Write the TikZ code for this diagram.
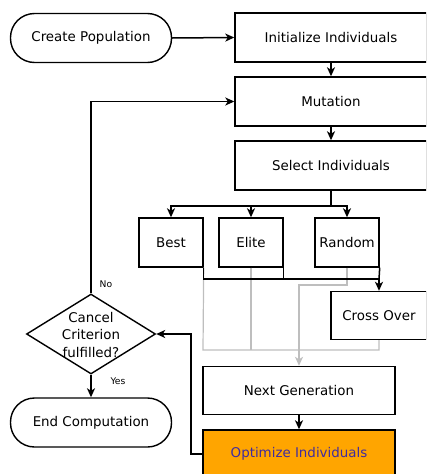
\documentclass[tikz,border=0pt]{standalone}
\usepackage{fontspec}
\setmainfont{DejaVu Sans}
\usetikzlibrary{shapes.geometric,arrows.meta}
\definecolor{optfill}{RGB}{255,165,0}
\definecolor{opttext}{RGB}{64,44,160}
\definecolor{lightline}{RGB}{190,190,190}
\begin{document}
\begin{tikzpicture}[x=1pt,y=-1pt,
  every node/.style={font=\fontsize{13.4}{17.5}\selectfont},
  box/.style={draw=black,line width=1.4pt,rectangle,inner sep=0pt,minimum width=192pt,minimum height=49pt},
  smallbox/.style={box,minimum width=64pt},
  term/.style={draw=black,line width=1.4pt,rectangle,rounded corners=24pt,inner sep=0pt,minimum width=161pt,minimum height=49pt},
  decision/.style={draw=black,line width=1.4pt,diamond,inner sep=0pt,minimum width=129pt,minimum height=80pt},
  conn/.style={line width=1.5pt,draw=black},
  arr/.style={conn,-{Stealth[length=9pt,width=8pt,inset=2.5pt]}},
  grayconn/.style={line width=1.2pt,draw=lightline},
  grayarr/.style={grayconn,-{Stealth[length=9pt,width=8pt,inset=2.5pt]}},
  tag/.style={font=\fontsize{9.2}{11}\selectfont}
]
\useasboundingbox (0,0) rectangle (426,474);
\clip (0,0) rectangle (426,474);

\node[term] (cp) at (91,38) {Create Population};
\node[box] (init) at (331,37.5) {Initialize Individuals};
\node[box] (mut) at (331,101.5) {Mutation};
\node[box] (sel) at (331,165.5) {Select Individuals};
\node[smallbox] (best) at (171,242.5) {Best};
\node[smallbox] (elite) at (251,242.5) {Elite};
\node[smallbox] (rand) at (347,242.5) {Random};
\node[box,minimum width=96pt,minimum height=48pt] (xo) at (379,315.5) {Cross Over};
\node[box,minimum height=48pt] (ng) at (299,390.5) {Next Generation};
\node[box,fill=optfill,text=opttext,minimum height=48pt] (opt) at (299,454) {Optimize Individuals};
\node[decision] (cc) at (91,334) {};
\node[align=center,inner sep=0pt] (cctext) at (91,334.5) {Cancel\\Criterion\\fulfilled?};
\node[term] (ec) at (91,422.5) {End Computation};
\node[tag] (no) at (106,284) {No};
\node[tag] (yes) at (118,381) {Yes};

\coordinate (split) at (331,206);
\coordinate (mergeR) at (379,279);
\coordinate (grayL) at (203,350);
\coordinate (randTurn) at (347,285);

% gray connectors first
\draw[grayconn] (best.south east) -- (grayL) -| (xo.south);
\draw[grayconn] (elite.south) -- (elite.south |- grayL);
\draw[grayarr] (rand.south) -- (randTurn) -| (ng.north);

% black connectors
\draw[arr] (cp.east) -- (init.west);
\draw[arr] (init.south) -- (mut.north);
\draw[arr] (mut.south) -- (sel.north);
\draw[conn] (sel.south) -- (split);
\draw[arr] (split) -| (best.north);
\draw[arr] (split) -| (elite.north);
\draw[arr] (split) -| (rand.north);
\draw[arr] (best.south east) |- (mergeR) -- (xo.north);
\draw[conn] (elite.south east) -- (elite.south east |- mergeR);
\draw[conn] (rand.south east) -- (mergeR);
\draw[arr] (ng.south) -- (opt.north);
\draw[arr] (opt.west) -- (191,454) |- (cc.east);
\draw[arr] (cc.north) |- (mut.west);
\draw[arr] (cc.south) -- (ec.north);
\end{tikzpicture}
\end{document}
